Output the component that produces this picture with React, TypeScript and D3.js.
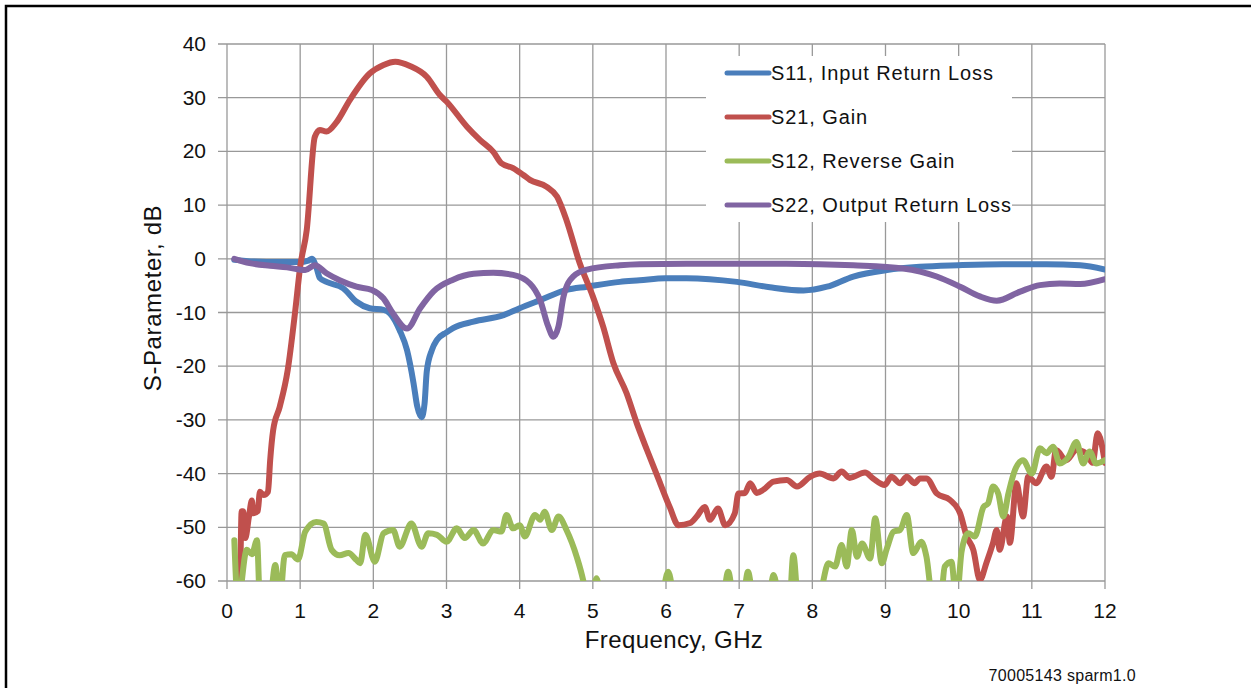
import React from 'react';
import * as d3 from 'd3';

// S11, input return loss
const s11Freq = [0.1, 0.37, 0.7, 1.0, 1.1, 1.16, 1.22, 1.27, 1.36, 1.59, 1.77, 1.95, 2.14, 2.23, 2.36, 2.46, 2.55, 2.6, 2.66, 2.7, 2.73, 2.8, 2.87, 3.0, 3.09, 3.37, 3.78, 4.0, 4.28, 4.64, 4.92, 5.37, 5.64, 5.99, 6.28, 6.97, 7.42, 7.88, 8.2, 8.56, 9.02, 9.47, 9.99, 10.6, 11.2, 11.66, 12];
const s11Db = [-0.2, -0.5, -0.6, -0.6, -0.4, 0, -1.5, -3.6, -4.3, -5.5, -8, -9.2, -9.5, -10.2, -13.3, -17, -23.2, -27.5, -29.5, -27, -21, -17, -15.1, -13.7, -12.9, -11.7, -10.5, -9.2, -7.7, -5.8, -5.2, -4.3, -4, -3.6, -3.6, -4.3, -5.3, -5.9, -5.2, -3.3, -2.1, -1.5, -1.2, -1, -1, -1.2, -2];

// S21, gain
const s21Freq = [0.1, 0.18, 0.2, 0.22, 0.25, 0.3, 0.34, 0.36, 0.42, 0.45, 0.5, 0.56, 0.59, 0.63, 0.72, 0.83, 0.93, 1.0, 1.09, 1.2, 1.27, 1.36, 1.5, 1.68, 1.95, 2.14, 2.3, 2.5, 2.73, 2.91, 3.0, 3.28, 3.46, 3.64, 3.75, 3.91, 4.05, 4.14, 4.37, 4.51, 4.64, 4.82, 5.0, 5.14, 5.28, 5.46, 5.6, 5.74, 5.92, 6.05, 6.17, 6.33, 6.42, 6.53, 6.6, 6.71, 6.81, 6.94, 6.99, 7.08, 7.15, 7.24, 7.33, 7.47, 7.65, 7.79, 7.97, 8.1, 8.29, 8.4, 8.51, 8.72, 8.83, 8.99, 9.08, 9.2, 9.29, 9.4, 9.47, 9.56, 9.7, 9.88, 10.02, 10.11, 10.2, 10.29, 10.38, 10.47, 10.52, 10.56, 10.66, 10.7, 10.79, 10.88, 10.95, 11.06, 11.2, 11.27, 11.33, 11.47, 11.61, 11.74, 11.83, 11.9, 12];
const s21Db = [-66, -58, -47, -47, -52, -48, -45, -47.4, -47, -43.4, -44, -43.4, -37.5, -32, -27.6, -20.7, -10, -1.5, 5.4, 22.7, 24, 23.7, 25.5, 29.6, 34.5, 36.1, 36.7, 35.9, 33.9, 30.5, 29.3, 24.6, 22.1, 19.9, 17.8, 16.9, 15.6, 14.7, 13.4, 11.6, 7.2, -0.8, -7, -12.6, -19.4, -25, -30.6, -35.6, -41.8, -46.2, -49.6, -49.2, -48, -46.2, -48.6, -46.5, -49.6, -47.4, -43.7, -43.6, -41.8, -43.6, -43, -41.5, -41.2, -42.4, -40.6, -40, -40.9, -39.6, -40.8, -39.8, -40.9, -42.1, -40.6, -41.8, -40.6, -41.8, -40.9, -40.9, -43.7, -44.9, -47.4, -51.7, -54.2, -59.8, -56.6, -52.9, -50.5, -54.2, -48, -52.9, -41.8, -48, -40.6, -41.8, -38.7, -40.6, -35.6, -37.5, -35.6, -36.2, -38, -32.5, -38];

// S12, reverse gain (values under -60 are cut by the axis)
const s12Freq = [0.1, 0.15, 0.27, 0.34, 0.41, 0.45, 0.52, 0.59, 0.66, 0.72, 0.79, 0.88, 0.97, 1.07, 1.22, 1.32, 1.43, 1.54, 1.66, 1.77, 1.82, 1.89, 2.02, 2.14, 2.27, 2.36, 2.52, 2.66, 2.75, 2.87, 3.0, 3.14, 3.25, 3.37, 3.5, 3.64, 3.75, 3.82, 3.91, 4.0, 4.07, 4.21, 4.28, 4.34, 4.44, 4.53, 4.64, 4.78, 4.87, 4.95, 5.05, 5.15, 5.9, 6.03, 6.15, 6.75, 6.85, 6.95, 7.03, 7.12, 7.22, 7.38, 7.47, 7.58, 7.68, 7.74, 7.82, 8.08, 8.15, 8.22, 8.31, 8.4, 8.47, 8.54, 8.61, 8.68, 8.79, 8.86, 8.95, 9.02, 9.11, 9.2, 9.29, 9.38, 9.49, 9.56, 9.65, 9.75, 9.81, 9.9, 9.97, 10.04, 10.13, 10.22, 10.34, 10.4, 10.47, 10.54, 10.61, 10.68, 10.77, 10.88, 11.0, 11.11, 11.2, 11.29, 11.38, 11.5, 11.61, 11.7, 11.79, 11.88, 12];
const s12Db = [-52.4, -64, -54.2, -55, -52.4, -64, -66, -64, -57, -64, -55.2, -55, -56, -50.8, -49, -49.3, -54.2, -55.2, -54.8, -56.1, -56.7, -51.4, -56.4, -51.1, -50.5, -53.6, -49.3, -53.6, -51.1, -51.4, -52.7, -50.2, -52, -50.5, -53, -50.5, -50.8, -47.7, -50.2, -49.6, -51.7, -47.7, -48.6, -47.1, -50.5, -48, -50.5, -55.5, -60, -66, -59.5, -66, -66, -58.3, -66, -66, -58.3, -66, -66, -58.3, -66, -66, -58.9, -66, -66, -55.2, -66, -66, -60, -56.7, -57.3, -53.3, -57.3, -50.5, -55.5, -53, -55.8, -48.3, -56.7, -53.9, -50.8, -50.5, -47.7, -54.8, -52.7, -55.5, -64, -64, -57.3, -56.4, -64, -54.5, -51.1, -51.7, -46.2, -45.6, -42.4, -43.7, -48, -43.7, -39.3, -37.5, -40, -35.3, -36.2, -35, -38.1, -36.9, -34.1, -38.1, -35.9, -38.1, -37.5];

// S22, output return loss
const s22Freq = [0.1, 0.31, 0.59, 0.82, 1.07, 1.2, 1.36, 1.54, 1.77, 1.98, 2.14, 2.27, 2.46, 2.64, 2.82, 3.09, 3.37, 3.64, 3.91, 4.14, 4.28, 4.39, 4.46, 4.53, 4.6, 4.73, 4.92, 5.37, 5.64, 6.28, 7.65, 8.56, 9.24, 9.7, 10.02, 10.29, 10.52, 10.84, 11.11, 11.38, 11.66, 12];
const s22Db = [0, -0.8, -1.3, -1.6, -2.1, -1.2, -2.7, -4, -5.2, -5.8, -7.4, -10.2, -13, -9.2, -6.1, -3.9, -2.8, -2.6, -3, -4.6, -7.7, -12.6, -14.5, -12.6, -7, -3.3, -2, -1.2, -1, -0.9, -0.9, -1.2, -1.8, -3.3, -5.2, -7, -7.8, -6.1, -4.9, -4.6, -4.7, -3.8];

const xTicks = [0, 1, 2, 3, 4, 5, 6, 7, 8, 9, 10, 11, 12];
const yTicks = [40, 30, 20, 10, 0, -10, -20, -30, -40, -50, -60];

const seriesNames = ['S11, Input Return Loss', 'S21, Gain', 'S12, Reverse Gain', 'S22, Output Return Loss'];
const seriesColors = ['#4a7ebb', '#c0504d', '#9bbb59', '#8064a2'];

const W = 1251;
const H = 688;
const font = '"Liberation Sans", Arial, Helvetica, sans-serif';

const App: React.FC = () => {
  const x = d3.scaleLinear().domain([0, 12]).range([227, 1105]);
  const y = d3.scaleLinear().domain([-60, 40]).range([581, 44]);

  const line = d3.line<[number, number]>()
    .x(d => x(d[0]))
    .y(d => y(d[1]))
    .curve(d3.curveMonotoneX);

  const series = [
    d3.zip(s11Freq, s11Db),
    d3.zip(s21Freq, s21Db),
    d3.zip(s12Freq, s12Db),
    d3.zip(s22Freq, s22Db),
  ] as [number, number][][];

  return (
    <svg width={W} height={H} style={{ position: 'absolute', left: 0, top: 0, background: '#fff' }} fontFamily={font}>
      <rect x={6} y={6} width={W + 20} height={H + 20} fill="#fff" stroke="#000" strokeWidth={2.5} />
      <defs>
        <clipPath id="plot">
          <rect x={x(0)} y={y(40)} width={x(12) - x(0)} height={y(-60) - y(40)} />
        </clipPath>
      </defs>

      {/* grid */}
      {yTicks.map(t => (
        <line key={'gy' + t} x1={x(0) - 9} x2={x(12)} y1={y(t)} y2={y(t)} stroke="#999" strokeWidth={1.3} />
      ))}
      {xTicks.map(t => (
        <line key={'gx' + t} x1={x(t)} x2={x(t)} y1={y(40)} y2={y(-60) + 8} stroke="#999" strokeWidth={1.3} />
      ))}

      {/* tick labels */}
      {yTicks.map(t => (
        <text key={'ly' + t} x={x(0) - 21} y={y(t) + 7} fontSize={21} textAnchor="end" fill="#111">{t}</text>
      ))}
      {xTicks.map(t => (
        <text key={'lx' + t} x={x(t)} y={y(-60) + 37} fontSize={21} textAnchor="middle" fill="#111">{t}</text>
      ))}

      {/* series */}
      <g clipPath="url(#plot)">
        {series.map((s, i) => (
          <path key={'s' + i} d={line(s) || ''} fill="none" stroke={seriesColors[i]} strokeWidth={6} strokeLinejoin="round" strokeLinecap="round" />
        ))}
      </g>

      {/* legend */}
      <rect x={706} y={56} width={306} height={166} fill="#fff" />
      {seriesNames.map((n, i) => (
        <g key={'lg' + i} transform={`translate(0,${73 + i * 44})`}>
          <line x1={727} x2={769} y1={0} y2={0} stroke={seriesColors[i]} strokeWidth={5} strokeLinecap="round" />
          <text x={771} y={7} fontSize={20} letterSpacing={0.9} fill="#111">{n}</text>
        </g>
      ))}

      {/* axis titles */}
      <text x={674} y={648} fontSize={24} letterSpacing={0.4} textAnchor="middle" fill="#111">Frequency, GHz</text>
      <text transform={`translate(161,${298}) rotate(-90)`} fontSize={24} letterSpacing={0.6} textAnchor="middle" fill="#111">S-Parameter, dB</text>
      <text x={1136} y={681} fontSize={16} letterSpacing={0.3} textAnchor="end" fill="#111">70005143 sparm1.0</text>
    </svg>
  );
};

export default App;
